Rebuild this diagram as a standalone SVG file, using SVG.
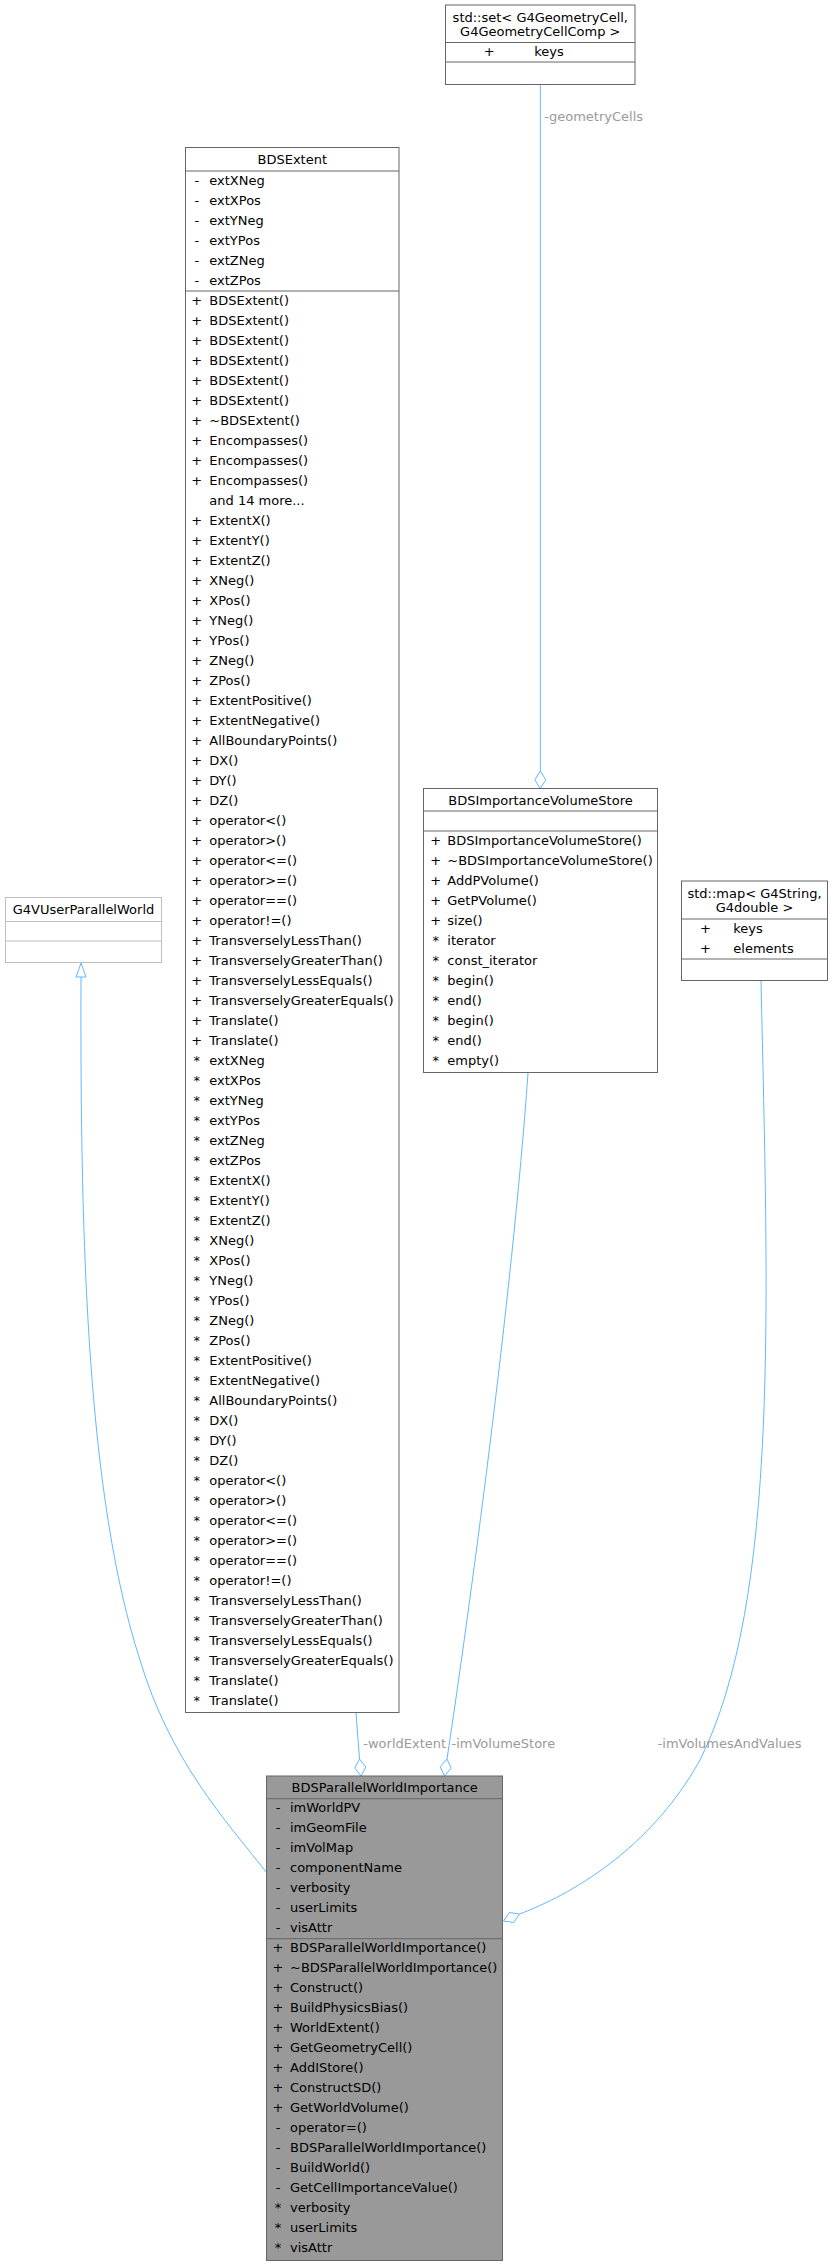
<svg xmlns="http://www.w3.org/2000/svg" width="834" height="2267" viewBox="0 0 834 2267">
<style>
text{font-family:"DejaVu Sans","Liberation Sans",sans-serif;font-size:13px;fill:#000}
.t{text-anchor:middle}
.s{text-anchor:middle}
.lbl{fill:#9a9a9a}
.box{fill:#fff;stroke:#666;stroke-width:1}
.gbox{fill:#fff;stroke:#bfbfbf;stroke-width:1}
.cur{fill:#999;stroke:#666;stroke-width:1}
.sep{stroke:#666;stroke-width:1}
.gsep{stroke:#bfbfbf;stroke-width:1}
.edge{fill:none;stroke:#63b8ff;stroke-width:1}
.head{fill:#fff;stroke:#63b8ff;stroke-width:1}
</style>
<rect width="834" height="2267" fill="#fff"/>
<g id="connectors">
<path class="edge" d="M540.3,84.5 L540.3,771"/>
<polygon class="head" points="540.3,771 545.8,779.8 540.3,788.5 534.8,779.8"/>
<text class="lbl" x="544.3" y="121">-geometryCells</text>
<path class="edge" d="M81,977 C80,1250 88,1500 140,1660 C170,1760 225,1820 267,1873"/>
<polygon class="head" points="81,963 86,977 76,977"/>
<path class="edge" d="M356,1713 L359.5,1759"/>
<polygon class="head" points="359.5,1759 365.8,1767 361,1776 354.8,1768"/>
<text class="lbl" x="363.3" y="1747.5">-worldExtent</text>
<path class="edge" d="M528,1073 C512,1300 468,1620 447,1759"/>
<polygon class="head" points="447,1759 451.2,1768.3 444.5,1776 440.2,1766.7"/>
<text class="lbl" x="451.5" y="1747.5">-imVolumeStore</text>
<path class="edge" d="M761,981 C768,1300 780,1600 700,1760 C650,1850 570,1895 519.5,1914"/>
<polygon class="head" points="519.5,1914 513.7,1922.5 503.5,1921 509.3,1912.5"/>
<text class="lbl" x="657.6" y="1747.5">-imVolumesAndValues</text>
</g>
<g id="node_set">
<rect class="box" x="445.5" y="5" width="189.5" height="79.5"/>
<line class="sep" x1="445.5" y1="42.5" x2="635" y2="42.5"/>
<line class="sep" x1="445.5" y1="62" x2="635" y2="62"/>
<text class="t" x="540.3" y="21.5">std::set&lt; G4GeometryCell,</text>
<text class="t" x="540.3" y="35.8">G4GeometryCellComp &gt;</text>
<text class="s" x="489.2" y="55.5">+</text>
<text x="534.3" y="55.5">keys</text>
</g>
<g id="node_map">
<rect class="box" x="681.5" y="881" width="146" height="99.5"/>
<line class="sep" x1="681.5" y1="919" x2="827.5" y2="919"/>
<line class="sep" x1="681.5" y1="959" x2="827.5" y2="959"/>
<text class="t" x="754.5" y="897.7">std::map&lt; G4String,</text>
<text class="t" x="754.5" y="911.8">G4double &gt;</text>
<text class="s" x="705.5" y="932.5">+</text>
<text x="733.3" y="932.5">keys</text>
<text class="s" x="705.5" y="952.5">+</text>
<text x="733.3" y="952.5">elements</text>
</g>
<g id="node_g4v">
<rect class="gbox" x="5.5" y="897.5" width="156" height="65"/>
<line class="gsep" x1="5.5" y1="921.5" x2="161.5" y2="921.5"/>
<line class="gsep" x1="5.5" y1="941" x2="161.5" y2="941"/>
<text class="t" x="83.5" y="914">G4VUserParallelWorld</text>
</g>
<g id="node_extent">
<rect class="box" x="185.5" y="147.5" width="213.5" height="1565"/>
<line class="sep" x1="185.5" y1="171" x2="399" y2="171"/>
<line class="sep" x1="185.5" y1="291" x2="399" y2="291"/>
<text class="t" x="292.3" y="163.5">BDSExtent</text>
<text class="s" x="196.8" y="184.5">-</text><text class="s" x="196.8" y="204.5">-</text><text class="s" x="196.8" y="224.5">-</text><text class="s" x="196.8" y="244.5">-</text><text class="s" x="196.8" y="264.5">-</text><text class="s" x="196.8" y="284.5">-</text>
<text x="209.3" y="184.5">extXNeg</text>
<text x="209.3" y="204.5">extXPos</text>
<text x="209.3" y="224.5">extYNeg</text>
<text x="209.3" y="244.5">extYPos</text>
<text x="209.3" y="264.5">extZNeg</text>
<text x="209.3" y="284.5">extZPos</text>
<text class="s" x="196.8" y="304.5">+</text><text x="209.3" y="304.5">BDSExtent()</text>
<text class="s" x="196.8" y="324.5">+</text><text x="209.3" y="324.5">BDSExtent()</text>
<text class="s" x="196.8" y="344.5">+</text><text x="209.3" y="344.5">BDSExtent()</text>
<text class="s" x="196.8" y="364.5">+</text><text x="209.3" y="364.5">BDSExtent()</text>
<text class="s" x="196.8" y="384.5">+</text><text x="209.3" y="384.5">BDSExtent()</text>
<text class="s" x="196.8" y="404.5">+</text><text x="209.3" y="404.5">BDSExtent()</text>
<text class="s" x="196.8" y="424.5">+</text><text x="209.3" y="424.5">~BDSExtent()</text>
<text class="s" x="196.8" y="444.5">+</text><text x="209.3" y="444.5">Encompasses()</text>
<text class="s" x="196.8" y="464.5">+</text><text x="209.3" y="464.5">Encompasses()</text>
<text class="s" x="196.8" y="484.5">+</text><text x="209.3" y="484.5">Encompasses()</text>
<text x="209.3" y="504.5">and 14 more...</text>
<text class="s" x="196.8" y="524.5">+</text><text x="209.3" y="524.5">ExtentX()</text>
<text class="s" x="196.8" y="544.5">+</text><text x="209.3" y="544.5">ExtentY()</text>
<text class="s" x="196.8" y="564.5">+</text><text x="209.3" y="564.5">ExtentZ()</text>
<text class="s" x="196.8" y="584.5">+</text><text x="209.3" y="584.5">XNeg()</text>
<text class="s" x="196.8" y="604.5">+</text><text x="209.3" y="604.5">XPos()</text>
<text class="s" x="196.8" y="624.5">+</text><text x="209.3" y="624.5">YNeg()</text>
<text class="s" x="196.8" y="644.5">+</text><text x="209.3" y="644.5">YPos()</text>
<text class="s" x="196.8" y="664.5">+</text><text x="209.3" y="664.5">ZNeg()</text>
<text class="s" x="196.8" y="684.5">+</text><text x="209.3" y="684.5">ZPos()</text>
<text class="s" x="196.8" y="704.5">+</text><text x="209.3" y="704.5">ExtentPositive()</text>
<text class="s" x="196.8" y="724.5">+</text><text x="209.3" y="724.5">ExtentNegative()</text>
<text class="s" x="196.8" y="744.5">+</text><text x="209.3" y="744.5">AllBoundaryPoints()</text>
<text class="s" x="196.8" y="764.5">+</text><text x="209.3" y="764.5">DX()</text>
<text class="s" x="196.8" y="784.5">+</text><text x="209.3" y="784.5">DY()</text>
<text class="s" x="196.8" y="804.5">+</text><text x="209.3" y="804.5">DZ()</text>
<text class="s" x="196.8" y="824.5">+</text><text x="209.3" y="824.5">operator&lt;()</text>
<text class="s" x="196.8" y="844.5">+</text><text x="209.3" y="844.5">operator&gt;()</text>
<text class="s" x="196.8" y="864.5">+</text><text x="209.3" y="864.5">operator&lt;=()</text>
<text class="s" x="196.8" y="884.5">+</text><text x="209.3" y="884.5">operator&gt;=()</text>
<text class="s" x="196.8" y="904.5">+</text><text x="209.3" y="904.5">operator==()</text>
<text class="s" x="196.8" y="924.5">+</text><text x="209.3" y="924.5">operator!=()</text>
<text class="s" x="196.8" y="944.5">+</text><text x="209.3" y="944.5">TransverselyLessThan()</text>
<text class="s" x="196.8" y="964.5">+</text><text x="209.3" y="964.5">TransverselyGreaterThan()</text>
<text class="s" x="196.8" y="984.5">+</text><text x="209.3" y="984.5">TransverselyLessEquals()</text>
<text class="s" x="196.8" y="1004.5">+</text><text x="209.3" y="1004.5">TransverselyGreaterEquals()</text>
<text class="s" x="196.8" y="1024.5">+</text><text x="209.3" y="1024.5">Translate()</text>
<text class="s" x="196.8" y="1044.5">+</text><text x="209.3" y="1044.5">Translate()</text>
<text class="s" x="196.8" y="1064.5">*</text><text x="209.3" y="1064.5">extXNeg</text>
<text class="s" x="196.8" y="1084.5">*</text><text x="209.3" y="1084.5">extXPos</text>
<text class="s" x="196.8" y="1104.5">*</text><text x="209.3" y="1104.5">extYNeg</text>
<text class="s" x="196.8" y="1124.5">*</text><text x="209.3" y="1124.5">extYPos</text>
<text class="s" x="196.8" y="1144.5">*</text><text x="209.3" y="1144.5">extZNeg</text>
<text class="s" x="196.8" y="1164.5">*</text><text x="209.3" y="1164.5">extZPos</text>
<text class="s" x="196.8" y="1184.5">*</text><text x="209.3" y="1184.5">ExtentX()</text>
<text class="s" x="196.8" y="1204.5">*</text><text x="209.3" y="1204.5">ExtentY()</text>
<text class="s" x="196.8" y="1224.5">*</text><text x="209.3" y="1224.5">ExtentZ()</text>
<text class="s" x="196.8" y="1244.5">*</text><text x="209.3" y="1244.5">XNeg()</text>
<text class="s" x="196.8" y="1264.5">*</text><text x="209.3" y="1264.5">XPos()</text>
<text class="s" x="196.8" y="1284.5">*</text><text x="209.3" y="1284.5">YNeg()</text>
<text class="s" x="196.8" y="1304.5">*</text><text x="209.3" y="1304.5">YPos()</text>
<text class="s" x="196.8" y="1324.5">*</text><text x="209.3" y="1324.5">ZNeg()</text>
<text class="s" x="196.8" y="1344.5">*</text><text x="209.3" y="1344.5">ZPos()</text>
<text class="s" x="196.8" y="1364.5">*</text><text x="209.3" y="1364.5">ExtentPositive()</text>
<text class="s" x="196.8" y="1384.5">*</text><text x="209.3" y="1384.5">ExtentNegative()</text>
<text class="s" x="196.8" y="1404.5">*</text><text x="209.3" y="1404.5">AllBoundaryPoints()</text>
<text class="s" x="196.8" y="1424.5">*</text><text x="209.3" y="1424.5">DX()</text>
<text class="s" x="196.8" y="1444.5">*</text><text x="209.3" y="1444.5">DY()</text>
<text class="s" x="196.8" y="1464.5">*</text><text x="209.3" y="1464.5">DZ()</text>
<text class="s" x="196.8" y="1484.5">*</text><text x="209.3" y="1484.5">operator&lt;()</text>
<text class="s" x="196.8" y="1504.5">*</text><text x="209.3" y="1504.5">operator&gt;()</text>
<text class="s" x="196.8" y="1524.5">*</text><text x="209.3" y="1524.5">operator&lt;=()</text>
<text class="s" x="196.8" y="1544.5">*</text><text x="209.3" y="1544.5">operator&gt;=()</text>
<text class="s" x="196.8" y="1564.5">*</text><text x="209.3" y="1564.5">operator==()</text>
<text class="s" x="196.8" y="1584.5">*</text><text x="209.3" y="1584.5">operator!=()</text>
<text class="s" x="196.8" y="1604.5">*</text><text x="209.3" y="1604.5">TransverselyLessThan()</text>
<text class="s" x="196.8" y="1624.5">*</text><text x="209.3" y="1624.5">TransverselyGreaterThan()</text>
<text class="s" x="196.8" y="1644.5">*</text><text x="209.3" y="1644.5">TransverselyLessEquals()</text>
<text class="s" x="196.8" y="1664.5">*</text><text x="209.3" y="1664.5">TransverselyGreaterEquals()</text>
<text class="s" x="196.8" y="1684.5">*</text><text x="209.3" y="1684.5">Translate()</text>
<text class="s" x="196.8" y="1704.5">*</text><text x="209.3" y="1704.5">Translate()</text>
</g>
<g id="node_store">
<rect class="box" x="423.5" y="788.5" width="234" height="284"/>
<line class="sep" x1="423.5" y1="811" x2="657.5" y2="811"/>
<line class="sep" x1="423.5" y1="831" x2="657.5" y2="831"/>
<text class="t" x="540.5" y="804.5">BDSImportanceVolumeStore</text>
<text class="s" x="435.8" y="844.5">+</text><text x="447.3" y="844.5">BDSImportanceVolumeStore()</text>
<text class="s" x="435.8" y="864.5">+</text><text x="447.3" y="864.5">~BDSImportanceVolumeStore()</text>
<text class="s" x="435.8" y="884.5">+</text><text x="447.3" y="884.5">AddPVolume()</text>
<text class="s" x="435.8" y="904.5">+</text><text x="447.3" y="904.5">GetPVolume()</text>
<text class="s" x="435.8" y="924.5">+</text><text x="447.3" y="924.5">size()</text>
<text class="s" x="435.8" y="944.5">*</text><text x="447.3" y="944.5">iterator</text>
<text class="s" x="435.8" y="964.5">*</text><text x="447.3" y="964.5">const_iterator</text>
<text class="s" x="435.8" y="984.5">*</text><text x="447.3" y="984.5">begin()</text>
<text class="s" x="435.8" y="1004.5">*</text><text x="447.3" y="1004.5">end()</text>
<text class="s" x="435.8" y="1024.5">*</text><text x="447.3" y="1024.5">begin()</text>
<text class="s" x="435.8" y="1044.5">*</text><text x="447.3" y="1044.5">end()</text>
<text class="s" x="435.8" y="1064.5">*</text><text x="447.3" y="1064.5">empty()</text>
</g>
<g id="node_pwi">
<rect class="cur" x="266.5" y="1776" width="236" height="484.5"/>
<line class="sep" x1="266.5" y1="1798.7" x2="502.5" y2="1798.7"/>
<line class="sep" x1="266.5" y1="1938.7" x2="502.5" y2="1938.7"/>
<text class="t" x="384.7" y="1791.7">BDSParallelWorldImportance</text>
<text class="s" x="278" y="1811.7">-</text><text x="290" y="1811.7">imWorldPV</text>
<text class="s" x="278" y="1831.7">-</text><text x="290" y="1831.7">imGeomFile</text>
<text class="s" x="278" y="1851.7">-</text><text x="290" y="1851.7">imVolMap</text>
<text class="s" x="278" y="1871.7">-</text><text x="290" y="1871.7">componentName</text>
<text class="s" x="278" y="1891.7">-</text><text x="290" y="1891.7">verbosity</text>
<text class="s" x="278" y="1911.7">-</text><text x="290" y="1911.7">userLimits</text>
<text class="s" x="278" y="1931.7">-</text><text x="290" y="1931.7">visAttr</text>
<text class="s" x="278" y="1951.7">+</text><text x="290" y="1951.7">BDSParallelWorldImportance()</text>
<text class="s" x="278" y="1971.7">+</text><text x="290" y="1971.7">~BDSParallelWorldImportance()</text>
<text class="s" x="278" y="1991.7">+</text><text x="290" y="1991.7">Construct()</text>
<text class="s" x="278" y="2011.7">+</text><text x="290" y="2011.7">BuildPhysicsBias()</text>
<text class="s" x="278" y="2031.7">+</text><text x="290" y="2031.7">WorldExtent()</text>
<text class="s" x="278" y="2051.7">+</text><text x="290" y="2051.7">GetGeometryCell()</text>
<text class="s" x="278" y="2071.7">+</text><text x="290" y="2071.7">AddIStore()</text>
<text class="s" x="278" y="2091.7">+</text><text x="290" y="2091.7">ConstructSD()</text>
<text class="s" x="278" y="2111.7">+</text><text x="290" y="2111.7">GetWorldVolume()</text>
<text class="s" x="278" y="2131.7">-</text><text x="290" y="2131.7">operator=()</text>
<text class="s" x="278" y="2151.7">-</text><text x="290" y="2151.7">BDSParallelWorldImportance()</text>
<text class="s" x="278" y="2171.7">-</text><text x="290" y="2171.7">BuildWorld()</text>
<text class="s" x="278" y="2191.7">-</text><text x="290" y="2191.7">GetCellImportanceValue()</text>
<text class="s" x="278" y="2211.7">*</text><text x="290" y="2211.7">verbosity</text>
<text class="s" x="278" y="2231.7">*</text><text x="290" y="2231.7">userLimits</text>
<text class="s" x="278" y="2251.7">*</text><text x="290" y="2251.7">visAttr</text>
</g>
</svg>
